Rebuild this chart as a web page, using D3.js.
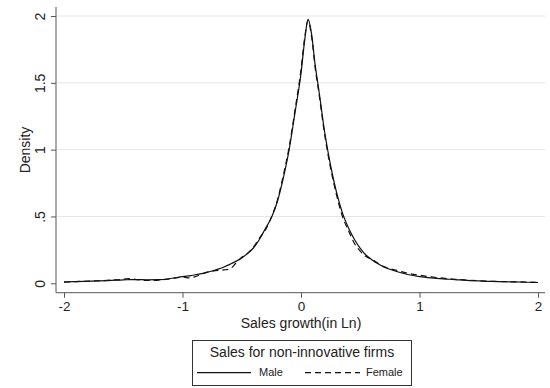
<!DOCTYPE html>
<html>
<head>
<meta charset="utf-8">
<script src="https://cdn.jsdelivr.net/npm/d3@7"></script>
<style>
  html, body { margin: 0; padding: 0; background: #fff; }
  svg { display: block; font-family: "Liberation Sans", Arial, sans-serif; }
</style>
</head>
<body>
<svg id="chart" width="550" height="388"></svg>
<script>
// Kernel density of sales growth (in Ln), by gender of owner
const growth = [-2.0, -1.9, -1.8, -1.7, -1.6, -1.5, -1.45, -1.4, -1.3, -1.2, -1.1, -1.0, -0.93, -0.9, -0.85, -0.8, -0.75, -0.7, -0.65, -0.6, -0.55, -0.5, -0.45, -0.4, -0.35, -0.3, -0.25, -0.2, -0.15, -0.1, -0.05, 0.0, 0.03, 0.06, 0.09, 0.12, 0.15, 0.2, 0.25, 0.3, 0.35, 0.4, 0.45, 0.5, 0.55, 0.6, 0.65, 0.7, 0.8, 0.9, 1.0, 1.1, 1.2, 1.3, 1.4, 1.5, 1.6, 1.7, 1.8, 1.9, 2.0];
const densityMale = [0.010, 0.012, 0.015, 0.018, 0.022, 0.026, 0.027, 0.028, 0.026, 0.027, 0.036, 0.050, 0.058, 0.062, 0.070, 0.080, 0.092, 0.106, 0.122, 0.142, 0.164, 0.190, 0.224, 0.266, 0.330, 0.410, 0.490, 0.610, 0.785, 1.000, 1.280, 1.570, 1.810, 1.975, 1.860, 1.630, 1.450, 1.130, 0.880, 0.680, 0.525, 0.415, 0.330, 0.262, 0.210, 0.175, 0.146, 0.122, 0.090, 0.066, 0.050, 0.040, 0.033, 0.028, 0.022, 0.018, 0.014, 0.012, 0.010, 0.008, 0.006];
const densityFemale = [0.008, 0.013, 0.016, 0.019, 0.024, 0.030, 0.036, 0.030, 0.021, 0.024, 0.034, 0.046, 0.040, 0.048, 0.064, 0.082, 0.090, 0.096, 0.100, 0.108, 0.150, 0.195, 0.225, 0.272, 0.340, 0.400, 0.495, 0.620, 0.805, 1.020, 1.300, 1.600, 1.830, 1.965, 1.840, 1.610, 1.430, 1.110, 0.860, 0.660, 0.500, 0.395, 0.300, 0.240, 0.200, 0.178, 0.150, 0.125, 0.098, 0.075, 0.060, 0.048, 0.038, 0.030, 0.024, 0.019, 0.015, 0.013, 0.011, 0.009, 0.007];
const xTicks = [-2, -1, 0, 1, 2];
const xTickLabels = ["-2", "-1", "0", "1", "2"];
const yTicks = [0, 0.5, 1, 1.5, 2];
const yTickLabels = ["0", ".5", "1", "1.5", "2"];
const seriesNames = ["Male", "Female"];
const legendTitle = "Sales for non-innovative firms";
const xTitle = "Sales growth(in Ln)";
const yTitle = "Density";

const svg = d3.select("#chart");
const x = d3.scaleLinear().domain([-2, 2]).range([64, 538]);
const y = d3.scaleLinear().domain([0, 2]).range([283.3, 16]);
const axisX0 = 56, axisY0 = 292.7;

// horizontal grid lines
svg.append("g").selectAll("line").data(yTicks.slice(1)).join("line")
  .attr("x1", axisX0 + 1).attr("x2", 545)
  .attr("y1", d => y(d)).attr("y2", d => y(d))
  .attr("stroke", "#e6e6e6").attr("stroke-width", 1);

// y axis
const yAxis = d3.axisLeft(y).tickValues(yTicks).tickSize(5).tickPadding(6)
  .tickFormat((d, i) => yTickLabels[i]);
const gy = svg.append("g").attr("transform", `translate(${axisX0},0)`).call(yAxis);
gy.select(".domain").attr("d", `M0,7V${axisY0}`).attr("stroke", "#555");
gy.selectAll(".tick line").attr("stroke", "#555");
gy.selectAll(".tick text")
  .attr("font-size", 14).attr("fill", "#222")
  .attr("transform", "rotate(-90)")
  .attr("x", 0).attr("y", -11).attr("dy", 0)
  .attr("text-anchor", "middle");

// x axis
const xAxis = d3.axisBottom(x).tickValues(xTicks).tickSize(5).tickPadding(5)
  .tickFormat((d, i) => xTickLabels[i]);
const gx = svg.append("g").attr("transform", `translate(0,${axisY0})`).call(xAxis);
gx.select(".domain").attr("d", `M${axisX0},0H545`).attr("stroke", "#555");
gx.selectAll(".tick line").attr("stroke", "#555");
gx.selectAll(".tick text").attr("font-size", 13.5).attr("fill", "#222")
  .attr("y", 18.5).attr("dy", 0);

// axis titles
svg.append("text").attr("x", x(0)).attr("y", 327.5)
  .attr("text-anchor", "middle").attr("font-size", 14).attr("fill", "#222")
  .text(xTitle);
svg.append("text").attr("transform", "translate(30,150) rotate(-90)")
  .attr("text-anchor", "middle").attr("font-size", 14).attr("fill", "#222")
  .text(yTitle);

// density curves
const line = d3.line().x(d => x(d[0])).y(d => y(d[1])).curve(d3.curveMonotoneX);
const series = [
  { name: seriesNames[0], values: densityMale, dash: null },
  { name: seriesNames[1], values: densityFemale, dash: "6,4" }
];
svg.append("g").selectAll("path").data(series).join("path")
  .attr("d", s => line(growth.map((g, i) => [g, s.values[i]])))
  .attr("fill", "none").attr("stroke", "#111").attr("stroke-width", 1.2)
  .attr("stroke-dasharray", s => s.dash);

// legend
const lg = svg.append("g");
lg.append("rect").attr("x", 192.5).attr("y", 340.5).attr("width", 219).attr("height", 45)
  .attr("fill", "#fff").attr("stroke", "#333").attr("stroke-width", 1);
lg.append("text").attr("x", 302).attr("y", 357).attr("text-anchor", "middle")
  .attr("font-size", 14).attr("fill", "#222").text(legendTitle);
const items = [
  { x1: 197, x2: 251, tx: 259 },
  { x1: 305, x2: 360, tx: 366 }
];
series.forEach((s, i) => {
  lg.append("line").attr("x1", items[i].x1).attr("x2", items[i].x2)
    .attr("y1", 372.7).attr("y2", 372.7)
    .attr("stroke", "#111").attr("stroke-width", 1.2).attr("stroke-dasharray", s.dash);
  lg.append("text").attr("x", items[i].tx).attr("y", 376)
    .attr("font-size", 11).attr("fill", "#222").text(s.name);
});
</script>
</body>
</html>
